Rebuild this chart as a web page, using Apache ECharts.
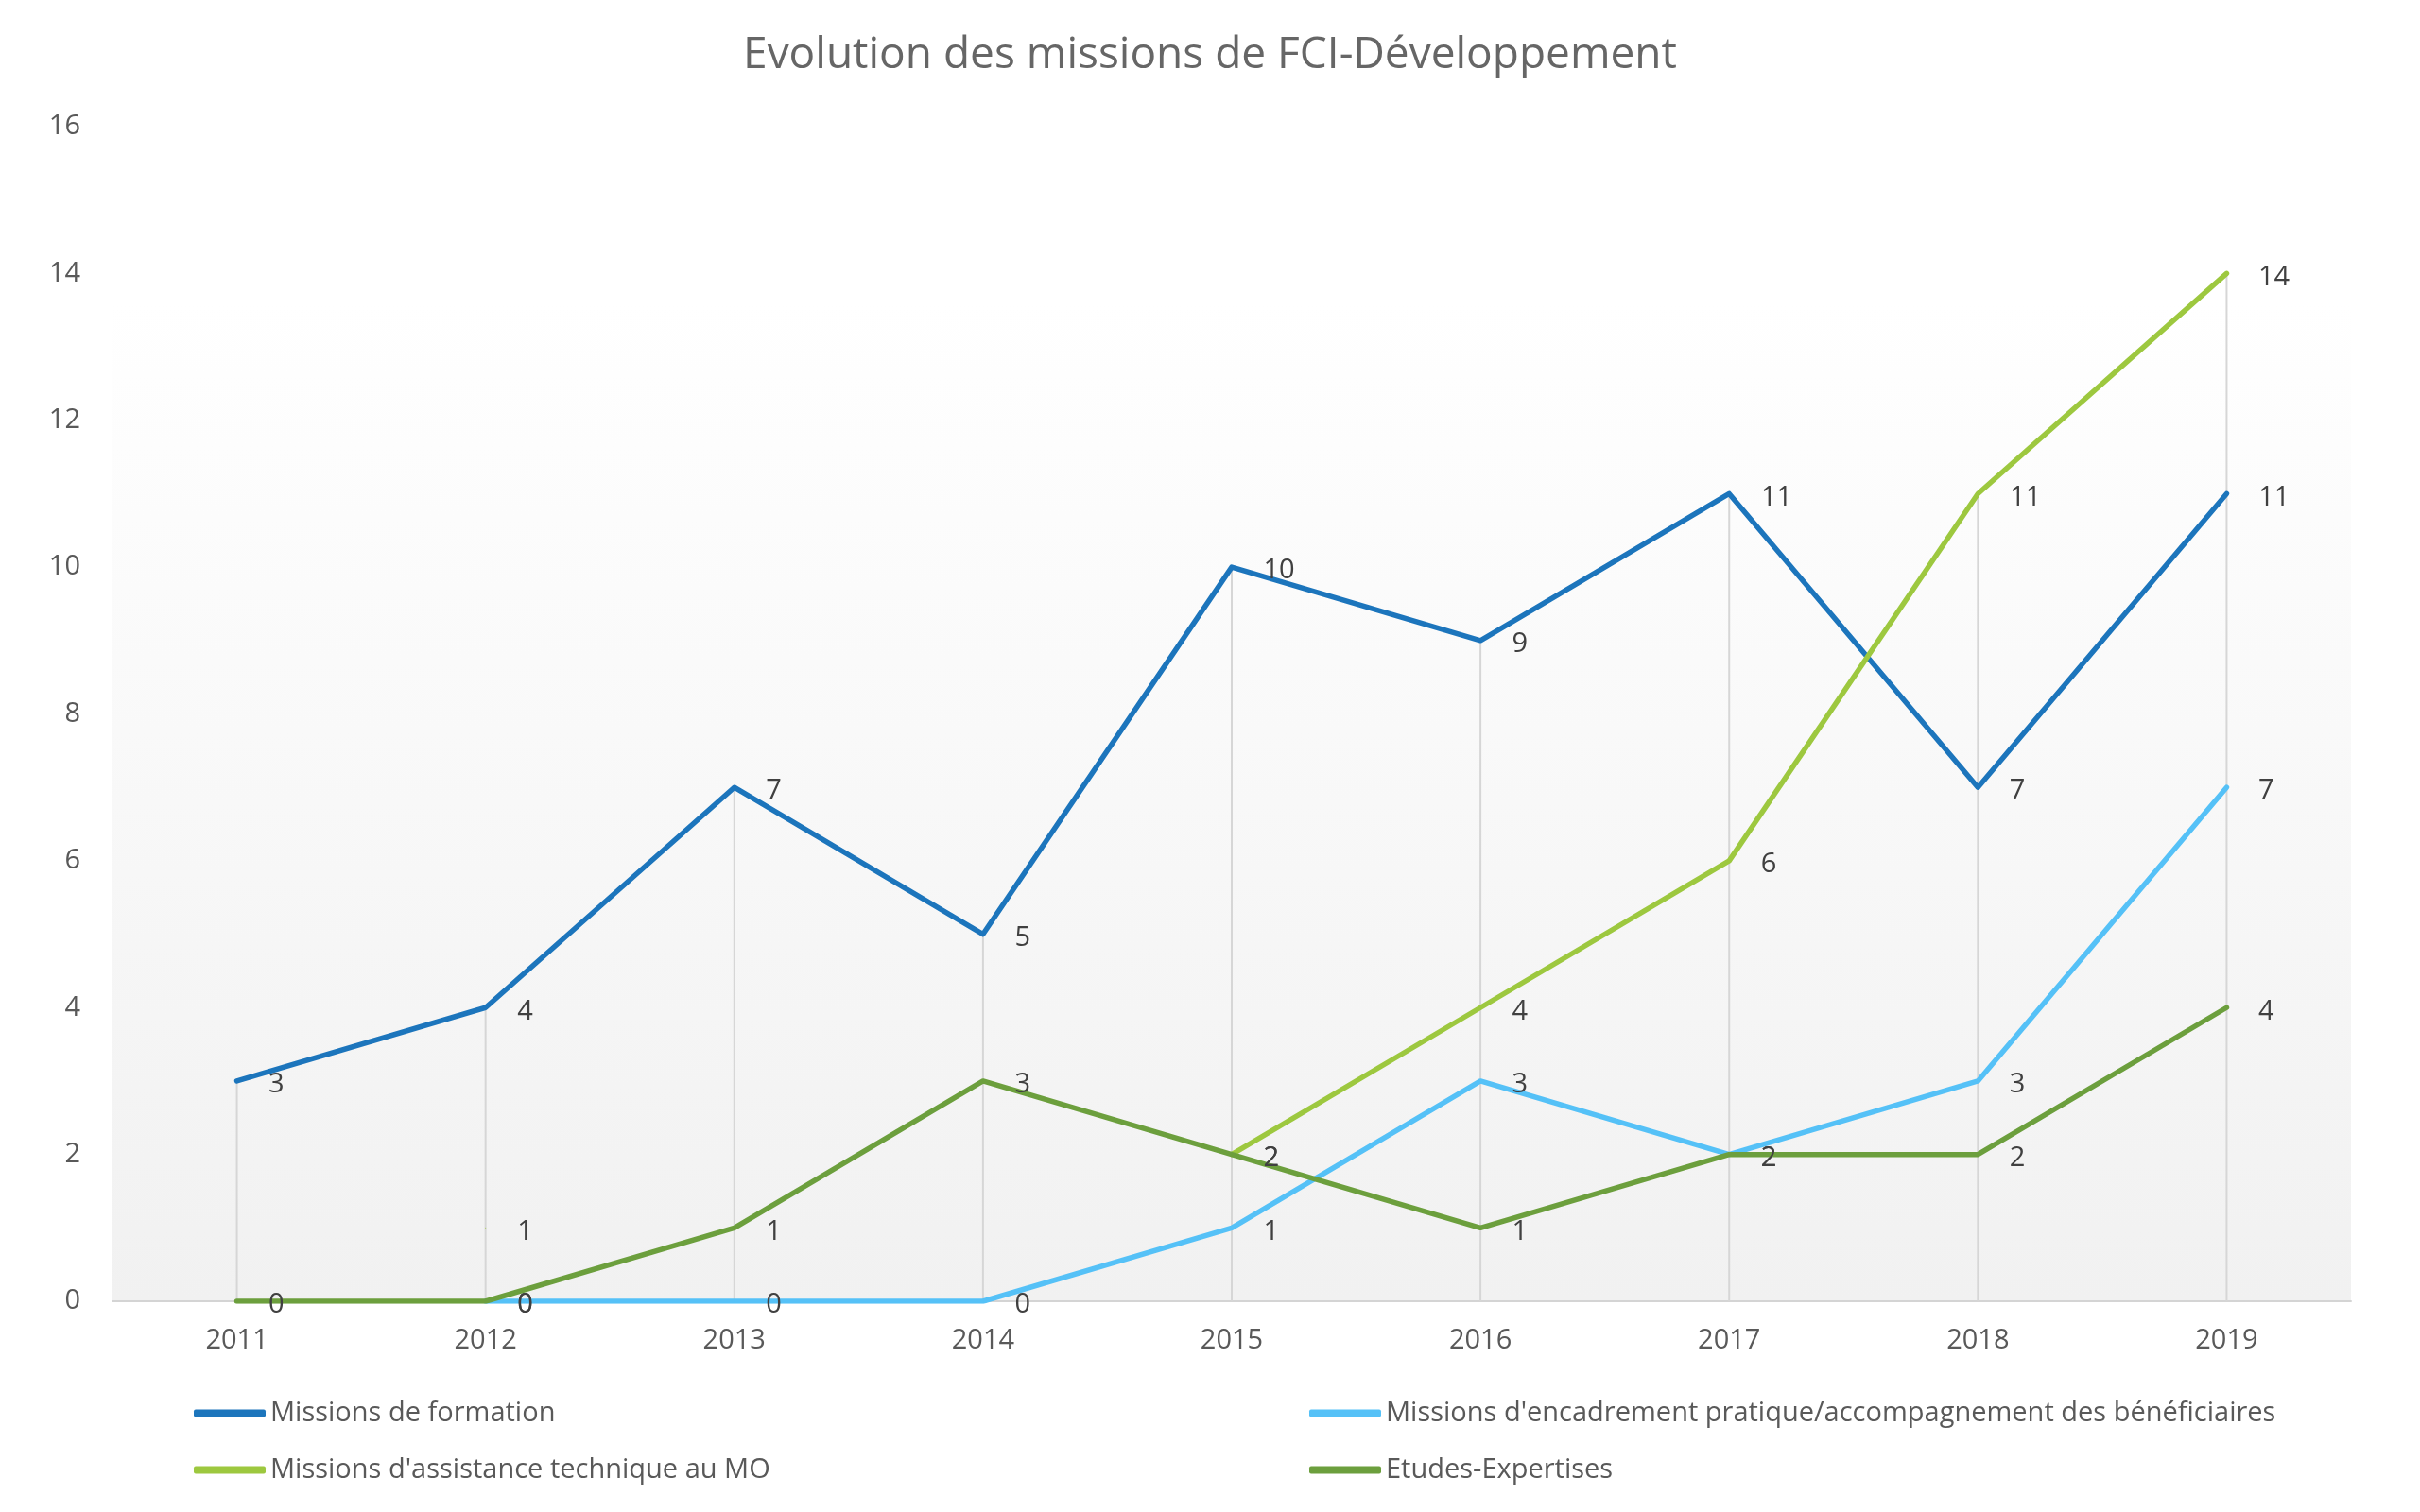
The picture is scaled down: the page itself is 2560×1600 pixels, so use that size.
<!DOCTYPE html>
<html>
<head>
<meta charset="utf-8">
<script src="https://cdn.jsdelivr.net/npm/echarts@6/dist/echarts.min.js"></script>
<style>html,body{margin:0;padding:0;background:#fff}#c{width:2560px;height:1600px}</style>
</head>
<body>
<div id="c"></div>
<script>
const titleText = "Evolution des missions de FCI-Développement";
const years = ["2011","2012","2013","2014","2015","2016","2017","2018","2019"];
const seriesNames = [
  "Missions de formation",
  "Missions d'encadrement pratique/accompagnement des bénéficiaires",
  "Missions d'assistance technique au MO",
  "Etudes-Expertises"
];
const formation   = [3, 4, 7, 5, 10, 9, 11, 7, 11];
const encadrement = [null, 0, 0, 0, 1, 3, 2, 3, 7];
const assistance  = [null, 1, null, null, 2, 4, 6, 11, 14];
const etudes      = [0, 0, 1, 3, 2, 1, 2, 2, 4];
const yTicks = [0, 2, 4, 6, 8, 10, 12, 14, 16];

const allData = [formation, encadrement, assistance, etudes];
const colors = ["#1c75bc", "#55c1f7", "#9dc83f", "#6c9f3d"];
const dropTops = years.map((_, i) => Math.max(...allData.map(a => a[i] == null ? 0 : a[i])));

const font = "'Open Sans', 'Noto Sans', sans-serif";
const chart = echarts.init(document.getElementById('c'), null, {renderer: 'canvas'});

function lineSeries(idx) {
  return {
    name: seriesNames[idx],
    type: 'line',
    data: allData[idx],
    z: 3 + idx,
    symbol: 'circle',
    symbolSize: 1,
    showSymbol: true,
    connectNulls: false,
    itemStyle: {color: colors[idx]},
    lineStyle: {color: colors[idx], width: 5.5, cap: 'round', join: 'round'},
    label: {
      show: true, position: 'right', distance: 33, offset: [0, 4],
      color: '#404040', fontSize: 29, fontFamily: font
    },
    emphasis: {disabled: true},
    animation: false
  };
}

const legendCommon = {
  orient: 'vertical',
  icon: 'roundRect',
  itemWidth: 76,
  itemHeight: 8,
  itemGap: 31,
  textStyle: {color: '#595959', fontSize: 29, fontFamily: font, lineHeight: 29},
  selectedMode: false
};

chart.setOption({
  animation: false,
  title: {
    text: titleText, left: 'center', top: 31,
    textStyle: {color: '#666666', fontSize: 46, fontWeight: 'normal', fontFamily: font}
  },
  legend: [
    Object.assign({}, legendCommon, {left: 200, top: 1476, data: [seriesNames[0], seriesNames[2]]}),
    Object.assign({}, legendCommon, {left: 1380, top: 1476, data: [seriesNames[1], seriesNames[3]]})
  ],
  grid: {
    left: 119, right: 73, top: 134, bottom: 223,
    show: true, borderWidth: 0,
    backgroundColor: new echarts.graphic.LinearGradient(0, 0, 0, 1, [
      {offset: 0, color: '#ffffff'},
      {offset: 0.15, color: '#ffffff'},
      {offset: 1, color: '#f1f1f1'}
    ])
  },
  xAxis: {
    type: 'category', data: years, boundaryGap: true,
    axisLine: {show: true, lineStyle: {color: '#d4d4d4', width: 2}},
    axisTick: {show: false},
    axisLabel: {color: '#595959', fontSize: 29, fontFamily: font, margin: 27},
    splitLine: {show: false}
  },
  yAxis: {
    type: 'value', min: 0, max: 16, interval: 2,
    axisLine: {show: false}, axisTick: {show: false},
    axisLabel: {color: '#595959', fontSize: 29, fontFamily: font, margin: 34,
      formatter: v => yTicks.includes(v) ? String(v) : ''},
    splitLine: {show: false}
  },
  series: [
    {
      name: 'drop', type: 'bar', data: dropTops, barWidth: 2, z: 1,
      itemStyle: {color: '#d6d6d6'}, silent: true, label: {show: false},
      emphasis: {disabled: true}
    },
    lineSeries(0), lineSeries(1), lineSeries(2), lineSeries(3)
  ]
});
</script>
</body>
</html>
